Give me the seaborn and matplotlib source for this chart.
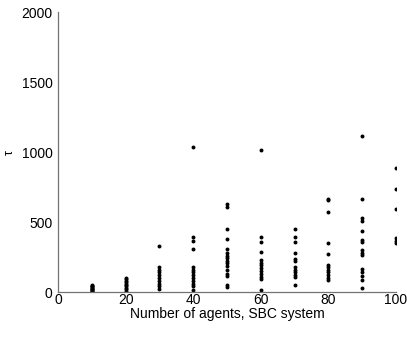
import pandas as pd
import matplotlib.pyplot as plt
import seaborn as sns

# tau values, one list per number of agents
tau_10 = [5, 10, 15, 20, 25, 30, 35, 40, 45, 50]
tau_20 = [10, 20, 30, 40, 50, 60, 70, 80, 90, 100]
tau_30 = [20, 40, 60, 80, 100, 120, 140, 160, 180, 328]
tau_40 = [15, 40, 60, 80, 100, 120, 140, 160, 180, 307, 364, 393, 1035]
tau_50 = [36, 50, 114, 128, 157, 186, 205, 221, 240, 257, 276, 307, 378, 450, 607, 628]
tau_60 = [14, 90, 110, 130, 150, 170, 190, 210, 230, 286, 357, 393, 1014]
tau_70 = [50, 107, 120, 140, 160, 180, 221, 236, 278, 357, 393, 450]
tau_80 = [86, 100, 120, 140, 160, 180, 193, 271, 350, 571, 657, 664]
tau_90 = [29, 86, 114, 143, 164, 264, 278, 300, 357, 371, 435, 507, 528, 664, 1114]
tau_100 = [350, 364, 386, 593, 736, 886]

agents = [10, 20, 30, 40, 50, 60, 70, 80, 90, 100]
series = [tau_10, tau_20, tau_30, tau_40, tau_50, tau_60, tau_70, tau_80, tau_90, tau_100]

rows = []
for n, vals in zip(agents, series):
    for v in vals:
        rows.append({"agents": n, "tau": v})
df = pd.DataFrame(rows)

sns.set_style("white")
plt.rcParams['font.family'] = ['Liberation Sans', 'DejaVu Sans']

fig, ax = plt.subplots(figsize=(4.07, 3.37), dpi=100)
sns.scatterplot(ax=ax, data=df, x="agents", y="tau", color="black", s=8, linewidth=0, legend=False)

ax.set_xlim(0, 100)
ax.set_ylim(0, 2000)
ax.set_xticks([0, 20, 40, 60, 80, 100])
ax.set_yticks([0, 500, 1000, 1500, 2000])
ax.set_xlabel("Number of agents, SBC system", fontsize=10, labelpad=0, color='black')
ax.set_ylabel("τ", fontsize=9, labelpad=4, color='black')
ax.tick_params(direction='in', length=3, width=0.8, labelsize=10, color='0.4',
               labelcolor='black')
ax.tick_params(axis='x', pad=1)
ax.tick_params(axis='y', pad=4)

for side in ['top', 'right']:
    ax.spines[side].set_visible(False)
for side in ['left', 'bottom']:
    ax.spines[side].set_color('0.45')
    ax.spines[side].set_linewidth(0.9)

plt.subplots_adjust(left=0.1425, right=0.973, bottom=0.1335, top=0.964)
fig.savefig("out.png", dpi=100)
